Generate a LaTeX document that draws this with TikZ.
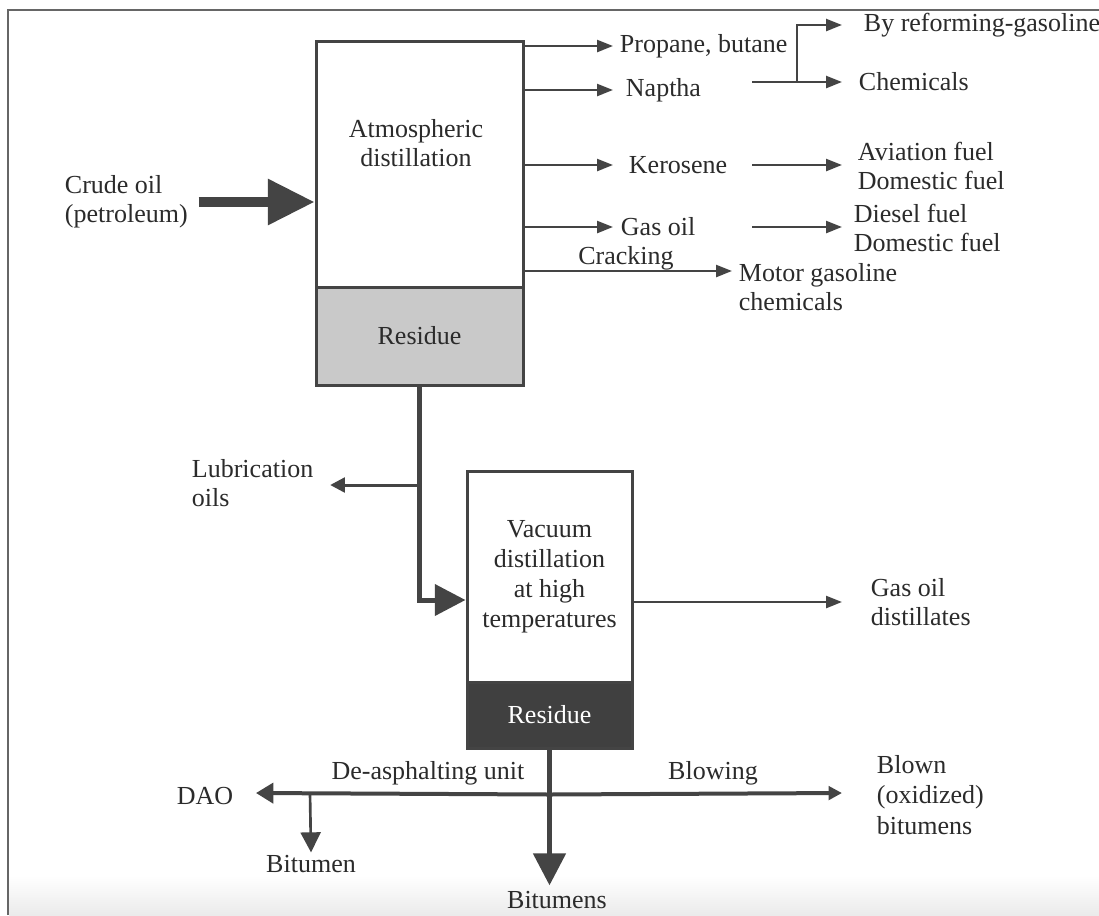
\documentclass[tikz,border=0pt]{standalone}
\usepackage{fontspec}
\setmainfont{Liberation Serif}
\usetikzlibrary{arrows.meta,calc}
\definecolor{ln}{HTML}{444444}
\definecolor{tx}{HTML}{2B2B2B}
\definecolor{resgray}{HTML}{C9C9C9}
\definecolor{resdark}{HTML}{404040}
\begin{document}
\begin{tikzpicture}[x=0.75pt,y=-0.75pt,
  font=\fontsize{19.5}{22}\selectfont, text=tx,
  lbl/.style={inner sep=2pt, align=left},
  box/.style={draw=ln, line width=2.25pt, inner sep=0pt, fill=white},
  thinarr/.style={draw=ln, line width=1.8pt, -{Triangle[length=12pt,width=9pt]}},
  crudearr/.style={draw=ln, line width=7pt, -{Triangle[length=35pt,width=33pt]}},
  stemarr/.style={draw=ln, line width=3.75pt, line join=miter, -{Triangle[length=23pt,width=23pt]}},
  lubarr/.style={draw=ln, line width=2.25pt, -{Triangle[length=11pt,width=11pt]}},
  hleft/.style={draw=ln, line width=3pt, -{Triangle[length=13pt,width=15pt]}},
  hright/.style={draw=ln, line width=3pt, -{Triangle[length=10pt,width=10pt]}},
  bitarr/.style={draw=ln, line width=2pt, -{Triangle[length=15pt,width=15pt]}},
  bigdown/.style={draw=ln, line width=3.75pt, -{Triangle[length=24pt,width=24pt]}}
]
\useasboundingbox (0,0) rectangle (1099,915);
\fill[white] (0,0) rectangle (1099,915);
\shade[top color=white, bottom color=black!8] (9,876) rectangle (1099,915);
\draw[line width=1.5pt, color=black!60] (8,915) -- (8,10) -- (1099,10);

% boxes
\node[box, minimum width=155.25pt, minimum height=184.5pt] (atm) at (419.5,164) {};
\node[lbl, align=center] (atmtxt) at (416,143) {Atmospheric\\distillation};
\node[box, fill=resgray, minimum width=155.25pt, minimum height=73.5pt] (atmres) at (419.5,336) {Residue};
\node[box, align=center, minimum width=123.75pt, minimum height=158.25pt,
  font=\fontsize{19.5}{22.5}\selectfont] (vac) at (549.5,576.5) {Vacuum\\distillation\\at high\\temperatures};
\node[box, fill=resdark, text=white, minimum width=123.75pt, minimum height=49.5pt] (vres) at (549.5,715) {Residue};

% labels
\node[lbl, anchor=west] (crude) at (62,202) {Crude oil\\(petroleum)};
\node[lbl, anchor=west] (prop) at (617,46) {Propane, butane};
\node[lbl, anchor=west] (nap) at (623,90) {Naptha};
\node[lbl, anchor=west] (kero) at (626,165) {Kerosene};
\node[lbl, anchor=west] (goil) at (618,227) {Gas oil};
\node[lbl] (crack) at (626,258) {Cracking};
\node[lbl, anchor=west] (motor) at (736,287) {Motor gasoline\\chemicals};
\node[lbl, anchor=west] (reform) at (861,25) {By reforming-gasoline};
\node[lbl, anchor=west] (chem) at (856,82) {Chemicals};
\node[lbl, anchor=west] (avi) at (855,166) {Aviation fuel\\Domestic fuel};
\node[lbl, anchor=west] (dies) at (851,228) {Diesel fuel\\Domestic fuel};
\node[lbl, anchor=west] (lub) at (189,483) {Lubrication\\oils};
\node[lbl, anchor=west] (gdist) at (868,602) {Gas oil\\distillates};
\node[lbl] (dao) at (205,796) {DAO};
\node[lbl] (deas) at (428,773) {De-asphalting unit};
\node[lbl] (blowing) at (713,773) {Blowing};
\node[lbl, anchor=west, font=\fontsize{19.5}{23}\selectfont] (blown) at (874,795) {Blown\\(oxidized)\\bitumens};
\node[lbl] (bit) at (311,864) {Bitumen};
\node[lbl] (bits) at (557,900) {Bitumens};

% helper columns
\coordinate (c1) at (613,0);
\coordinate (c2) at (842,0);
\coordinate (c3) at (752,0);
\coordinate (motortip) at (732,271);
\coordinate (nbj) at (797,82);

% atmospheric outputs
\draw[crudearr, shorten <=6pt] (crude.east) -- (crude.east -| atm.west);
\draw[thinarr] (prop.west -| atm.east) -- (prop.west -| c1);
\draw[thinarr] (nap.west -| atm.east) -- (nap.west -| c1);
\draw[thinarr] (kero.west -| atm.east) -- (kero.west -| c1);
\draw[thinarr] (goil.west -| atm.east) -- (goil.west -| c1);
\draw[thinarr] (motortip -| atm.east) -- (motortip);
\draw[thinarr] (nbj -| c3) -- (nbj -| c2);
\draw[thinarr] (nbj) |- (reform.west -| c2);
\draw[thinarr] (kero.east -| c3) -- (kero.east -| c2);
\draw[thinarr] (goil.east -| c3) -- (goil.east -| c2);

% residue to vacuum
\coordinate (vin) at ($(vac.west)+(0,23.5)$);
\draw[stemarr] (atmres.south) -- (atmres.south |- vin) -- (vin);
\coordinate (lubtip) at ($(lub.east)+(14,2)$);
\draw[lubarr] (atmres.south |- lubtip) -- (lubtip);
\draw[thinarr] (vac.east |- gdist.west) -- (gdist.west -| c2);

% bottom
\coordinate (j) at ($(vres.south)+(0,45)$);
\coordinate (daotip) at (256,793);
\coordinate (blowtip) at (842,793);
\coordinate (bj) at (310,793);
\draw[hleft] (j) -- (daotip);
\draw[hright] (j) -- (blowtip);
\draw[bitarr] (bj) -- (bit.north);
\draw[bigdown] (vres.south) -- ($(vres.south |- bits.north)+(0,-3)$);
\end{tikzpicture}
\end{document}
